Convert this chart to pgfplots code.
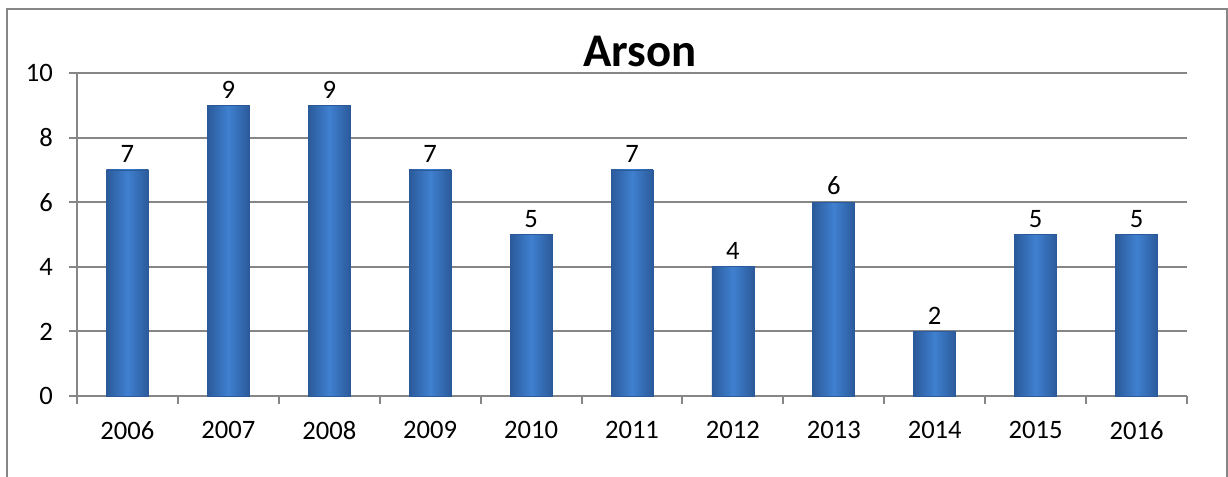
\documentclass[border=0pt]{standalone}
\usepackage{fontspec}
\setmainfont{Carlito}
\usepackage{pgfplots}
\pgfplotsset{compat=1.18}
\pgfkeys{/pgf/number format/assume math mode=true}
\definecolor{gridgray}{HTML}{868686}
\definecolor{bardark}{HTML}{2B5A9A}
\definecolor{barlight}{HTML}{3F80D0}
\pgfplotsset{barsty/.style={draw=bardark, line width=0.4pt, left color=bardark, right color=bardark, middle color=barlight}}
\begin{document}
\begin{tikzpicture}
\useasboundingbox (0,0) rectangle (614pt,238.5pt);
\draw[gridgray, line width=1pt] (3.5pt,-5pt) -- (3.5pt,234pt) -- (613.5pt,234pt) -- (613.5pt,-5pt);
\begin{axis}[
  at={(38.5pt,40.5pt)}, anchor=south west,
  scale only axis, width=555pt, height=161.5pt,
  xmin=-0.5, xmax=10.5, ymin=0, ymax=10,
  ybar, bar width=21pt, bar shift=0pt,
  xtick={0,...,10},
  xticklabels={2006,2007,2008,2009,2010,2011,2012,2013,2014,2015,2016},
  minor xtick={-0.5,0.5,...,10.5},
  ytick={0,2,...,10},
  ymajorgrids,
  grid style={gridgray, line width=1pt},
  axis x line*=bottom, axis y line*=left,
  axis line style={gridgray, line width=1pt, -},
  tick align=outside,
  major x tick style={draw=none},
  minor x tick style={gridgray, line width=1pt},
  major tick length=4pt, minor tick length=4pt,
  ytick style={gridgray, line width=1pt},
  tick label style={font=\fontsize{13.3}{16}\selectfont, black},
  yticklabel style={xshift=-4.5pt},
  xticklabel style={yshift=-5pt},
  /pgf/number format/assume math mode=true,
  nodes near coords,
  nodes near coords style={font=\fontsize{13.3}{16}\selectfont, black},
  title={Arson},
  title style={at={(0.507,1)}, anchor=base, yshift=-3pt, font=\bfseries\fontsize{23.4}{28}\selectfont},
]
\addplot[barsty] coordinates {(0,7)};
\addplot[barsty] coordinates {(1,9)};
\addplot[barsty] coordinates {(2,9)};
\addplot[barsty] coordinates {(3,7)};
\addplot[barsty] coordinates {(4,5)};
\addplot[barsty] coordinates {(5,7)};
\addplot[barsty] coordinates {(6,4)};
\addplot[barsty] coordinates {(7,6)};
\addplot[barsty] coordinates {(8,2)};
\addplot[barsty] coordinates {(9,5)};
\addplot[barsty] coordinates {(10,5)};
\end{axis}
\end{tikzpicture}
\end{document}
